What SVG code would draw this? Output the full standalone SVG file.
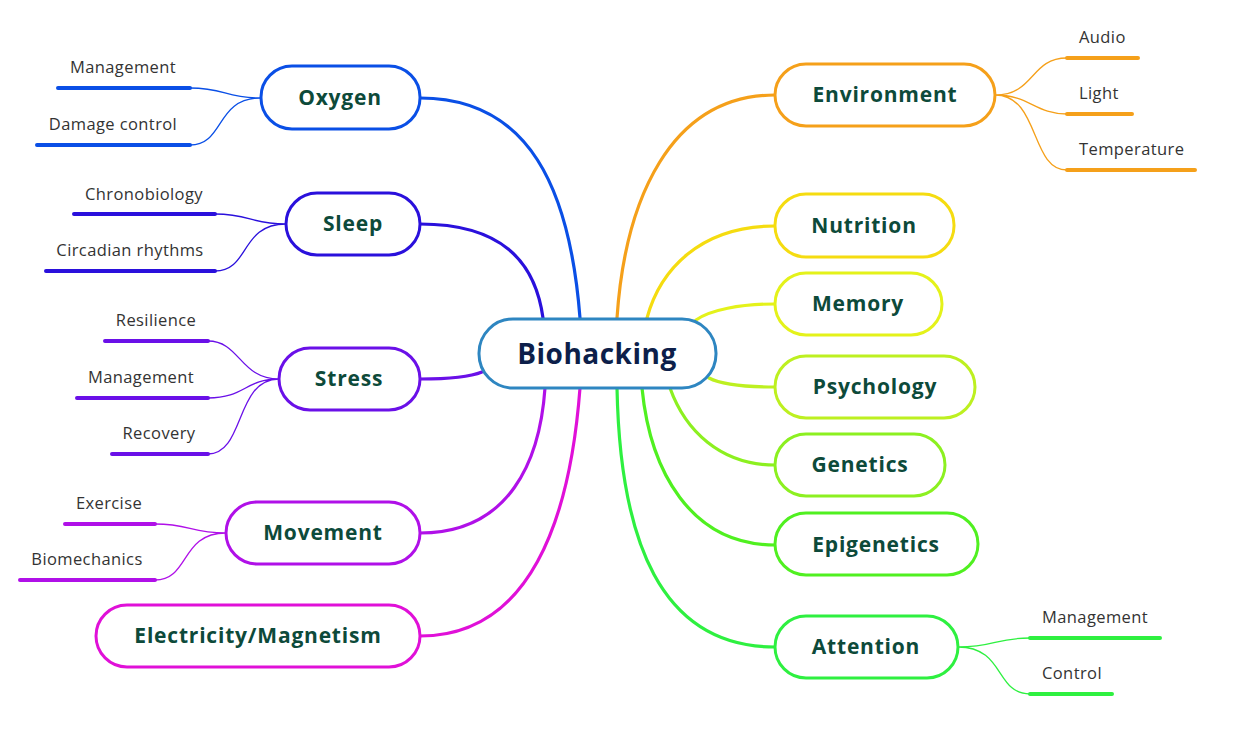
<svg xmlns="http://www.w3.org/2000/svg" width="1233" height="729" viewBox="0 0 1233 729">
<style>
.node{fill:#fff;stroke-width:3}
.lbl{font-family:"Open Sans","Noto Sans",sans-serif;font-weight:bold;font-size:21px;fill:#0d4a3a;text-anchor:middle;letter-spacing:0.8px}
.sub{font-family:"Open Sans","Noto Sans",sans-serif;font-size:16.5px;fill:#333;letter-spacing:0.4px}
.r{text-anchor:middle}
.l{text-anchor:start}
.main{fill:none;stroke-width:3.2;stroke-linecap:round}
.br{fill:none;stroke-width:1.3}
.ul{fill:none;stroke-width:4;stroke-linecap:round}
</style>
<rect width="1233" height="729" fill="#fff"/>
<g id="connectors">
<path class="main" stroke="#0a4fe6" d="M420,98 C530,98 570,190 580,318"/>
<path class="main" stroke="#2a10dc" d="M420,224 C500,224 535,260 543,318"/>
<path class="main" stroke="#6a10e8" d="M420,379 C450,379 470,377 482,372"/>
<path class="main" stroke="#b010e8" d="M420,533 C510,533 540,460 545,388"/>
<path class="main" stroke="#e010d8" d="M420,636 C530,636 570,520 580,388"/>
<path class="main" stroke="#f5a01a" d="M775,95 C670,95 625,200 617,318"/>
<path class="main" stroke="#f5dc10" d="M775,226 C700,226 660,270 647,318"/>
<path class="main" stroke="#e4f21a" d="M775,304 C740,304 710,310 696,320"/>
<path class="main" stroke="#bdf020" d="M775,387 C745,387 720,384 709,378"/>
<path class="main" stroke="#8cf020" d="M775,465 C720,465 685,430 670,388"/>
<path class="main" stroke="#50f020" d="M775,545 C690,545 650,470 642,388"/>
<path class="main" stroke="#2ef040" d="M775,647 C660,647 620,540 617,388"/>
<path class="br" stroke="#0a4fe6" d="M261,98 C225,98 225,88 190,88 M261,98 C215,98 225,145 190,145"/>
<path class="br" stroke="#2a10dc" d="M286,224 C250,224 250,214 215,214 M286,224 C240,224 250,271 215,271"/>
<path class="br" stroke="#6a10e8" d="M279,379 C240,379 240,341 208,341 M279,379 C245,379 245,398 208,398 M279,379 C235,379 245,454 208,454"/>
<path class="br" stroke="#b010e8" d="M226,533 C190,533 190,524 155,524 M226,533 C180,533 190,580 155,580"/>
<path class="br" stroke="#f5a01a" d="M995,95 C1035,95 1030,58 1067,58 M995,95 C1030,95 1035,114 1067,114 M995,95 C1040,95 1030,170 1067,170"/>
<path class="br" stroke="#2ef040" d="M958,647 C995,647 995,638 1030,638 M958,647 C1005,647 995,694 1030,694"/>
<path class="ul" stroke="#0a4fe6" d="M58,88 H190 M37,145 H190"/>
<path class="ul" stroke="#2a10dc" d="M74,214 H215 M46,271 H215"/>
<path class="ul" stroke="#6a10e8" d="M105,341 H208 M77,398 H208 M112,454 H208"/>
<path class="ul" stroke="#b010e8" d="M65,524 H155 M20,580 H155"/>
<path class="ul" stroke="#f5a01a" d="M1067,58 H1138 M1067,114 H1132 M1067,170 H1195"/>
<path class="ul" stroke="#2ef040" d="M1030,638 H1160 M1030,694 H1112"/>
</g>
<g id="center"><rect class="node" x="479" y="319" width="237" height="69" rx="34" stroke="#2e86c1"/><text x="597" y="364" font-family="'Open Sans','Noto Sans',sans-serif" font-weight="bold" font-size="28" fill="#0d1f4a" text-anchor="middle" letter-spacing="0.5">Biohacking</text></g>
<g id="oxygen"><rect class="node" x="261" y="66" width="159" height="63" rx="31" stroke="#0a4fe6"/><text class="lbl" x="340" y="105">Oxygen</text></g>
<g id="sleep"><rect class="node" x="286" y="193" width="134" height="62" rx="31" stroke="#2a10dc"/><text class="lbl" x="353" y="231">Sleep</text></g>
<g id="stress"><rect class="node" x="279" y="348" width="141" height="62" rx="31" stroke="#6a10e8"/><text class="lbl" x="349" y="386">Stress</text></g>
<g id="movement"><rect class="node" x="226" y="502" width="194" height="62" rx="31" stroke="#b010e8"/><text class="lbl" x="323" y="540">Movement</text></g>
<g id="electricity"><rect class="node" x="96" y="605" width="324" height="62" rx="31" stroke="#e010d8"/><text class="lbl" x="258" y="643">Electricity/Magnetism</text></g>
<g id="environment"><rect class="node" x="775" y="64" width="220" height="62" rx="31" stroke="#f5a01a"/><text class="lbl" x="885" y="102">Environment</text></g>
<g id="nutrition"><rect class="node" x="775" y="194" width="179" height="63" rx="31" stroke="#f5dc10"/><text class="lbl" x="864" y="233">Nutrition</text></g>
<g id="memory"><rect class="node" x="775" y="273" width="167" height="62" rx="31" stroke="#e4f21a"/><text class="lbl" x="858" y="311">Memory</text></g>
<g id="psychology"><rect class="node" x="775" y="356" width="200" height="62" rx="31" stroke="#bdf020"/><text class="lbl" x="875" y="394">Psychology</text></g>
<g id="genetics"><rect class="node" x="775" y="434" width="170" height="62" rx="31" stroke="#8cf020"/><text class="lbl" x="860" y="472">Genetics</text></g>
<g id="epigenetics"><rect class="node" x="775" y="513" width="203" height="62" rx="31" stroke="#50f020"/><text class="lbl" x="876" y="552">Epigenetics</text></g>
<g id="attention"><rect class="node" x="775" y="616" width="183" height="62" rx="31" stroke="#2ef040"/><text class="lbl" x="866" y="654">Attention</text></g>
<g id="oxygen-subs"><text class="sub r" x="123" y="73">Management</text><text class="sub r" x="113" y="130">Damage control</text></g>
<g id="sleep-subs"><text class="sub r" x="144" y="200">Chronobiology</text><text class="sub r" x="130" y="256">Circadian rhythms</text></g>
<g id="stress-subs"><text class="sub r" x="156" y="326">Resilience</text><text class="sub r" x="141" y="383">Management</text><text class="sub r" x="159" y="439">Recovery</text></g>
<g id="movement-subs"><text class="sub r" x="109" y="509">Exercise</text><text class="sub r" x="87" y="565">Biomechanics</text></g>
<g id="environment-subs"><text class="sub l" x="1079" y="43">Audio</text><text class="sub l" x="1079" y="99">Light</text><text class="sub l" x="1079" y="155">Temperature</text></g>
<g id="attention-subs"><text class="sub l" x="1042" y="623">Management</text><text class="sub l" x="1042" y="679">Control</text></g>
</svg>
